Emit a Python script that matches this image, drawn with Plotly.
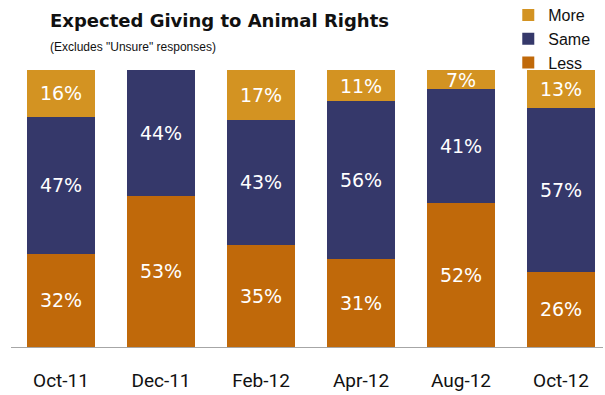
import plotly.graph_objects as go

# Survey waves and share of responses (percent)
periods = ["Oct-11", "Dec-11", "Feb-12", "Apr-12", "Aug-12", "Oct-12"]
less = [32, 53, 35, 31, 52, 26]
same = [47, 44, 43, 56, 41, 57]
more = [16, 0, 17, 11, 7, 13]

colors = {"Less": "#C0690A", "Same": "#35386A", "More": "#D39322"}


def labels(vals):
    return [f"{v}%" if v else "" for v in vals]


fig = go.Figure()
for name, vals in [("Less", less), ("Same", same), ("More", more)]:
    fig.add_trace(go.Bar(
        x=periods, y=vals, name=name,
        marker=dict(color=colors[name], line=dict(width=0)),
        text=labels(vals), textposition="inside", insidetextanchor="middle",
        textfont=dict(family="DejaVu Sans", size=19, color="white"),
        textangle=0, hoverinfo="skip",
    ))

fig.update_layout(
    barmode="stack", barnorm="percent", bargap=0.32,
    width=605, height=395,
    margin=dict(l=11, r=2, t=70, b=48, autoexpand=False),
    plot_bgcolor="white", paper_bgcolor="white",
    uniformtext=dict(minsize=19, mode="show"),
    xaxis=dict(range=[-0.5, 5.42], showline=True, linecolor="#A6A6A6", linewidth=1,
               ticks="", tickfont=dict(family="Roboto, Liberation Sans", size=19, color="#111"),
               ticklabelstandoff=16),
    yaxis=dict(range=[0, 100], visible=False, showgrid=False),
    legend=dict(traceorder="reversed", x=0.84, xanchor="left", y=1.26, yanchor="top",
                font=dict(family="Liberation Sans", size=16, color="#111"),
                itemwidth=30, tracegroupgap=0, bgcolor="rgba(0,0,0,0)"),
    showlegend=True,
)

fig.add_annotation(text="<b>Expected Giving to Animal Rights</b>", xref="paper", yref="paper",
                   x=0.063, y=1.18, xanchor="left", yanchor="middle", showarrow=False,
                   font=dict(family="DejaVu Sans", size=18, color="#111"))
fig.add_annotation(text='(Excludes "Unsure" responses)', xref="paper", yref="paper",
                   x=0.063, y=1.083, xanchor="left", yanchor="middle", showarrow=False,
                   font=dict(family="Liberation Sans", size=12, color="#111"))

fig.write_html("out.html")
